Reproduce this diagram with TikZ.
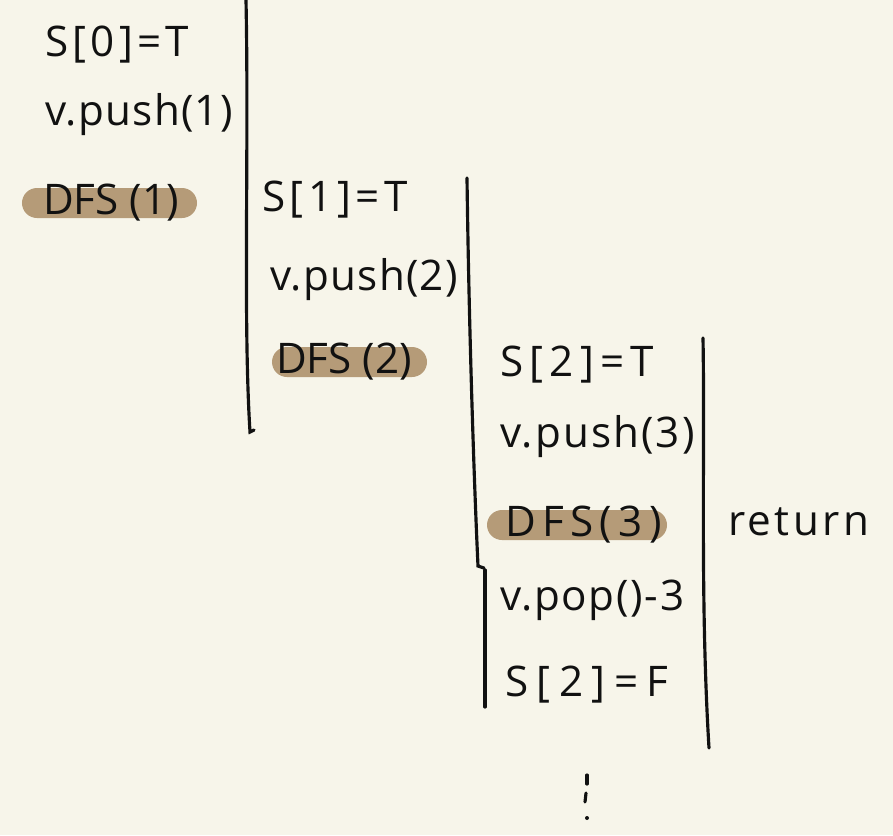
\documentclass[tikz,border=0pt]{standalone}
\usepackage{fontspec}
\setmainfont{Open Sans}
\definecolor{paper}{HTML}{F7F5EA}
\definecolor{hl}{HTML}{B59B78}
\definecolor{ink}{HTML}{111111}
\begin{document}
\begin{tikzpicture}[x=0.03cm,y=-0.03cm,
  code/.style={anchor=west, inner sep=0pt, text=ink, font=\fontsize{36}{40}\selectfont},
  track/.style={font=\fontsize{36}{40}\selectfont\addfontfeatures{LetterSpace=#1}},
  pill/.style={fill=hl, draw=none, rounded corners=0.45cm, minimum height=0.9cm, inner sep=0pt},
  rule/.style={draw=ink, line width=2.7pt, line cap=round}]
\fill[paper] (0,0) rectangle (893,835);
\useasboundingbox (0,0) rectangle (893,835);

% level 1
\node[code, track=10] (s0) at (45,45) {S[0]=T};
\node[code, track=3] (p1) at (45,115) {v.push(1)};
\node[pill, minimum width=5.25cm] (h1) at (109.5,203) {};
\node[code, anchor=center] (d1) at (111,203) {DFS (1)};

% level 2
\node[code, track=11] (s1) at (262,200) {S[1]=T};
\node[code, track=3] (p2) at (270,280) {v.push(2)};
\node[pill, minimum width=4.65cm] (h2) at (349.5,362) {};
\node[code, anchor=center] (d2) at (344,362) {DFS (2)};

% level 3
\node[code, track=15] (s2) at (500,365) {S[2]=T};
\node[code, track=5] (p3) at (500,437) {v.push(3)};
\node[pill, minimum width=5.4cm] (h3) at (577,525) {};
\node[code, track=15] (d3) at (505,525) {DFS(3)};
\node[code, track=8] (ret) at (728,522) {return};
\node[code, track=4] (pop) at (500,600) {v.pop()-3};
\node[code, track=20] (sf) at (505,685) {S[2]=F};

% vertical rules
\coordinate (a1) at (246,0);
\coordinate (b1) at (250,432);
\draw[rule] (a1) .. controls (249,150) and (243,320) .. (b1) -- (254,430);

\coordinate (a2) at (467,178);
\coordinate (b2) at (478,566);
\draw[rule] (a2) .. controls (469,330) and (474,480) .. (b2) -- (484,568);
\coordinate (a2b) at (485,570);
\coordinate (b2b) at (485,707);
\draw[rule] (a2b) -- (b2b);

\coordinate (a3) at (703,338);
\coordinate (b3) at (709,748);
\draw[rule] (a3) .. controls (705,450) and (700,600) .. (b3);

% continuation marks
\coordinate (c1) at (587,775);
\coordinate (c2) at (587,784);
\coordinate (c3) at (586,793);
\coordinate (c4) at (585,802);
\coordinate (c5) at (587,818);
\draw[rule] (c1) -- (c2);
\draw[rule] (c3) -- (c4);
\fill[ink] (c5) circle (2);
\end{tikzpicture}
\end{document}
